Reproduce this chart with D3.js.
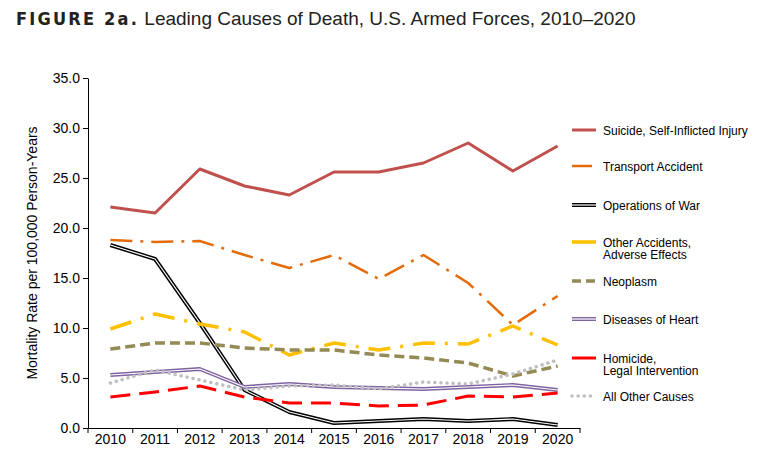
<!DOCTYPE html><html><head><meta charset="utf-8"><script src="https://cdn.jsdelivr.net/npm/d3@7"></script>
<style>body{margin:0;background:#fff;font-family:"Liberation Sans",Arial,sans-serif}</style></head><body><svg id="c" width="780" height="474"></svg>
<script>
const years=["2010","2011","2012","2013","2014","2015","2016","2017","2018","2019","2020"];
const yTicks=[0,5,10,15,20,25,30,35];
const suicide=[22.1,21.5,25.9,24.2,23.3,25.6,25.6,26.5,28.5,25.7,28.2];
const transport=[18.8,18.6,18.7,17.3,16.0,17.3,14.9,17.3,14.5,10.3,13.2];
const war=[18.3,16.9,10.5,3.8,1.6,0.5,0.7,0.9,0.7,0.9,0.3];
const otherAcc=[9.9,11.4,10.4,9.6,7.3,8.5,7.8,8.5,8.4,10.2,8.3];
const neoplasm=[7.9,8.5,8.5,8.0,7.8,7.8,7.3,7.0,6.5,5.2,6.2];
const heart=[5.3,5.6,5.9,4.1,4.4,4.1,4.0,3.9,4.1,4.3,3.8];
const homicide=[3.1,3.6,4.2,3.1,2.5,2.5,2.2,2.3,3.2,3.1,3.5];
const otherCauses=[4.5,5.8,4.8,3.8,4.2,4.3,3.9,4.6,4.4,5.4,6.8];
const series=[
 {name:["Suicide, Self-Inflicted Injury"],v:suicide,c:"#c0504d",w:3,d:null,ly:130},
 {name:["Transport Accident"],v:transport,c:"#e36c0a",w:2.5,d:"22,8,3,8",ly:166,ld:"12,100"},
 {name:["Operations of War"],v:war,c:"#000",w:4,d:null,dbl:true,ly:205},
 {name:["Other Accidents,","Adverse Effects"],v:otherAcc,c:"#ffc000",w:3.5,d:"22,10,3,10",ly:242},
 {name:["Neoplasm"],v:neoplasm,c:"#948a54",w:3.5,d:"10,5",ly:281},
 {name:["Diseases of Heart"],v:heart,c:"#8064a2",w:4,d:null,dbl:true,ly:319},
 {name:["Homicide,","Legal Intervention"],v:homicide,c:"#ff0000",w:3,d:"20,9",ly:358},
 {name:["All Other Causes"],v:otherCauses,c:"#bfbfbf",w:3.5,d:"0.1,6",cap:"round",ly:396}
];
const svg=d3.select("#c");
const x=d3.scaleBand().domain(years).range([88,580]);
const y=d3.scaleLinear().domain([0,35]).range([428,78]);
const t=svg.append("text").attr("x",16).attr("y",25).attr("font-size",19).attr("fill","#222");
t.append("tspan").text("FIGURE 2a.").attr("font-weight","bold").attr("font-family","'Liberation Sans Narrow','DejaVu Sans Condensed',sans-serif").attr("letter-spacing",2.2).attr("font-size",18);
t.append("tspan").text(" Leading Causes of Death, U.S. Armed Forces, 2010–2020");
const ya=svg.append("g").attr("transform","translate(88,0)").call(d3.axisLeft(y).tickValues(yTicks).tickFormat(d3.format(".1f")).tickSize(5).tickSizeOuter(0));
ya.selectAll("text").attr("font-size",14).attr("fill","#000").attr("font-family","Liberation Sans");
const xa=svg.append("g").attr("transform","translate(0,428)").call(d3.axisBottom(x).tickSize(0).tickSizeOuter(0));
xa.selectAll("text").attr("font-size",14).attr("fill","#000").attr("dy","0.9em").attr("font-family","Liberation Sans");
xa.selectAll(".tick").append("line").attr("x1",-x.step()/2).attr("x2",-x.step()/2).attr("y2",5).attr("stroke","#000");
xa.append("line").attr("x1",580).attr("x2",580).attr("y2",5).attr("stroke","#000");
svg.selectAll(".domain").attr("stroke","#000");
svg.append("text").attr("transform","translate(37,253) rotate(-90)").attr("text-anchor","middle").attr("font-size",14).text("Mortality Rate per 100,000 Person-Years");
const line=d3.line().x((d,i)=>x(years[i])+x.bandwidth()/2).y(d=>y(d));
series.forEach(s=>{
 svg.append("path").attr("d",line(s.v)).attr("fill","none").attr("stroke",s.c).attr("stroke-width",s.w).attr("stroke-dasharray",s.d).attr("stroke-linecap",s.cap||"butt").attr("stroke-linejoin","round");
 if(s.dbl) svg.append("path").attr("d",line(s.v)).attr("fill","none").attr("stroke","#fff").attr("stroke-width",1.2).attr("stroke-linejoin","round");
 const lx1=572,lx2=596;
 svg.append("line").attr("x1",lx1).attr("x2",s.d==="0.1,6"?594:(s.ld?592:lx2)).attr("y1",s.ly).attr("y2",s.ly).attr("stroke",s.c).attr("stroke-width",s.w).attr("stroke-dasharray",s.d==="10,5"?"9,5":(s.d==="0.1,6"?s.d:null)).attr("stroke-linecap",s.cap||"butt");
 if(s.dbl) svg.append("line").attr("x1",lx1).attr("x2",lx2).attr("y1",s.ly).attr("y2",s.ly).attr("stroke","#fff").attr("stroke-width",1.2);
 const tt=svg.append("text").attr("x",603).attr("y",s.ly+4.5).attr("font-size",12).attr("fill","#000");
 s.name.forEach((n,i)=>tt.append("tspan").attr("x",603).attr("dy",i?12.5:0).text(n));
});
</script></body></html>
